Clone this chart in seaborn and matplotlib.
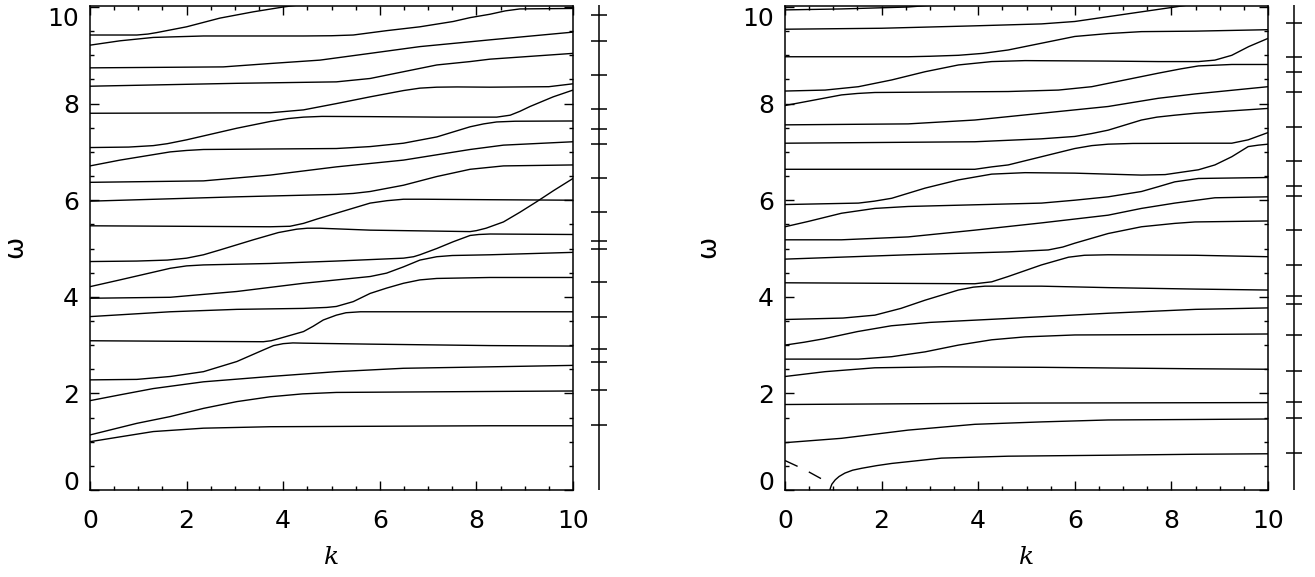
import numpy as np
import pandas as pd
import matplotlib
matplotlib.use("Agg")
import matplotlib.pyplot as plt
import seaborn as sns
from matplotlib.ticker import MultipleLocator

sns.set_style("ticks")
plt.rcParams["font.family"] = ["DejaVu Sans"]
for key in ["text.color", "axes.labelcolor", "xtick.color", "ytick.color", "axes.edgecolor"]:
    plt.rcParams[key] = "black"

# ---------------- left panel curves: (k, omega) ----------------
L01 = [(0, 9.42), (0.97, 9.42), (1.2, 9.44), (1.38, 9.47), (2.0, 9.59), (2.69, 9.77), (3.38, 9.90),
       (4.0, 10.0), (4.6, 10.08)]
L02 = [(0, 9.21), (0.62, 9.30), (1.31, 9.37), (2.35, 9.40), (4.42, 9.40), (5.0, 9.405), (5.45, 9.42),
       (6.14, 9.51), (6.83, 9.59), (7.52, 9.70), (7.87, 9.78), (8.28, 9.85), (8.6, 9.92), (8.9, 9.96), (10, 9.97)]
L03 = [(0, 8.74), (2.76, 8.76), (3.73, 8.83), (4.76, 8.90), (5.8, 9.04), (6.83, 9.18), (7.87, 9.28),
       (8.28, 9.32), (10, 9.48)]
L04 = [(0, 8.36), (3.04, 8.42), (5.1, 8.45), (5.8, 8.52), (6.49, 8.66), (7.18, 8.80), (7.87, 8.87),
       (8.28, 8.92), (10, 9.04)]
L05 = [(0, 7.80), (3.73, 7.81), (4.42, 7.87), (5.1, 8.0), (5.8, 8.14), (6.49, 8.27), (6.83, 8.32),
       (7.18, 8.34), (7.6, 8.345), (8.28, 8.34), (9.5, 8.35), (10, 8.41)]
L06 = [(0, 7.09), (0.8, 7.10), (1.31, 7.13), (1.6, 7.17), (2.0, 7.25), (3.04, 7.49), (3.73, 7.63),
       (4.1, 7.69), (4.42, 7.72), (4.8, 7.735), (5.8, 7.73), (7.18, 7.72), (8.42, 7.72), (8.7, 7.76),
       (8.9, 7.84), (9.11, 7.94), (9.59, 8.14), (10, 8.28)]
L07 = [(0, 6.71), (0.62, 6.83), (1.66, 7.0), (2.0, 7.03), (2.35, 7.05), (5.1, 7.07), (5.8, 7.11),
       (6.49, 7.18), (7.18, 7.31), (7.87, 7.52), (8.15, 7.58), (8.42, 7.62), (8.8, 7.635), (10, 7.64)]
L08 = [(0, 6.37), (2.35, 6.40), (3.73, 6.52), (5.1, 6.69), (6.49, 6.83), (7.87, 7.05), (8.56, 7.14), (10, 7.21)]
L09 = [(0, 5.98), (3.04, 6.07), (5.1, 6.12), (5.45, 6.14), (5.8, 6.18), (6.49, 6.31), (7.18, 6.49),
       (7.87, 6.64), (8.56, 6.71), (10, 6.73)]
L10 = [(0, 5.47), (3.73, 5.45), (4.14, 5.46), (4.42, 5.52), (4.7, 5.61), (5.1, 5.73), (5.8, 5.94),
       (6.15, 5.99), (6.49, 6.02), (6.9, 6.02), (8.28, 6.01), (10, 6.0)]
L11 = [(0, 4.73), (0.97, 4.74), (1.6, 4.76), (2.0, 4.80), (2.35, 4.87), (2.69, 4.97), (3.38, 5.18),
       (3.9, 5.33), (4.28, 5.40), (4.5, 5.42), (4.76, 5.42), (5.8, 5.38), (7.87, 5.35), (8.0, 5.37),
       (8.2, 5.42), (8.56, 5.55), (8.9, 5.75), (9.25, 5.97), (9.6, 6.2), (10, 6.45)]
L12 = [(0, 4.21), (0.62, 4.35), (1.66, 4.59), (2.0, 4.64), (2.35, 4.66), (3.73, 4.69), (5.1, 4.74),
       (6.49, 4.80), (6.7, 4.83), (6.83, 4.87), (7.18, 5.0), (7.52, 5.14), (7.87, 5.27), (8.05, 5.29),
       (8.28, 5.30), (10, 5.29)]
L13 = [(0, 3.97), (1.66, 3.99), (3.04, 4.11), (4.42, 4.28), (5.8, 4.42), (6.14, 4.49), (6.49, 4.62),
       (6.83, 4.76), (7.18, 4.83), (7.5, 4.855), (8.28, 4.87), (10, 4.92)]
L14 = [(0, 3.59), (1.66, 3.69), (3.04, 3.74), (4.42, 3.76), (4.9, 3.78), (5.1, 3.80), (5.45, 3.90),
       (5.8, 4.07), (6.14, 4.18), (6.49, 4.28), (6.83, 4.35), (7.18, 4.38), (8.28, 4.40), (10, 4.40)]
L15 = [(0, 3.09), (1.66, 3.08), (3.59, 3.07), (3.75, 3.09), (3.93, 3.14), (4.42, 3.28), (4.62, 3.39),
       (4.83, 3.52), (5.1, 3.62), (5.3, 3.67), (5.6, 3.69), (8.28, 3.69), (10, 3.69)]
L16 = [(0, 2.28), (0.97, 2.29), (1.66, 2.35), (2.35, 2.45), (3.04, 2.66), (3.59, 2.90), (3.8, 2.99),
       (4.0, 3.03), (4.2, 3.045), (4.42, 3.04), (5.8, 3.02), (8.28, 2.99), (10, 2.98)]
L17 = [(0, 1.85), (0.62, 1.97), (1.31, 2.10), (2.35, 2.24), (3.73, 2.35), (5.1, 2.45), (6.49, 2.52),
       (8.28, 2.55), (10, 2.58)]
L18 = [(0, 1.14), (0.97, 1.38), (1.66, 1.52), (2.35, 1.69), (3.04, 1.83), (3.73, 1.93), (4.4, 1.99),
       (5.1, 2.02), (8.28, 2.04), (10, 2.05)]
L19 = [(0, 1.0), (0.62, 1.10), (1.31, 1.21), (2.35, 1.28), (3.73, 1.31), (8.28, 1.33), (10, 1.33)]

# ---------------- right panel curves ----------------
R01 = [(0, 9.94), (1.17, 9.96), (2.55, 10.0), (3.6, 10.08)]
R02 = [(0, 9.54), (2.0, 9.56), (3.93, 9.61), (5.31, 9.65), (6.0, 9.70), (6.69, 9.80), (7.38, 9.90),
       (8.07, 10.0), (8.6, 10.08)]
R03 = [(0, 8.97), (2.55, 8.97), (3.0, 8.98), (3.59, 9.0), (4.1, 9.04), (4.62, 9.11), (5.31, 9.25),
       (6.0, 9.39), (6.69, 9.45), (7.38, 9.49), (8.49, 9.50), (10, 9.53)]
R04 = [(0, 8.26), (0.83, 8.28), (1.52, 8.35), (2.21, 8.49), (2.9, 8.66), (3.59, 8.80), (4.28, 8.87),
       (4.97, 8.89), (6.69, 8.88), (7.73, 8.87), (8.56, 8.87), (8.9, 8.90), (9.25, 9.0), (9.6, 9.18), (10, 9.35)]
R05 = [(0, 7.96), (0.48, 8.05), (1.17, 8.18), (1.5, 8.21), (1.86, 8.23), (4.62, 8.25), (5.66, 8.28),
       (6.35, 8.35), (7.04, 8.49), (7.73, 8.63), (8.2, 8.72), (8.56, 8.78), (9.25, 8.81), (10, 8.81)]
R06 = [(0, 7.56), (2.55, 7.58), (3.93, 7.66), (5.31, 7.80), (6.69, 7.94), (7.73, 8.11), (8.49, 8.20), (10, 8.35)]
R07 = [(0, 7.18), (3.93, 7.21), (5.3, 7.27), (6.0, 7.32), (6.35, 7.38), (6.69, 7.45), (7.38, 7.66),
       (7.7, 7.72), (8.07, 7.76), (8.49, 7.80), (10, 7.90)]
R08 = [(0, 6.64), (3.93, 6.64), (4.28, 6.69), (4.62, 6.73), (5.31, 6.90), (6.0, 7.07), (6.35, 7.13),
       (6.69, 7.16), (7.2, 7.175), (8.49, 7.18), (9.25, 7.18), (9.59, 7.25), (10, 7.40)]
R09 = [(0, 5.91), (1.52, 5.94), (1.85, 5.98), (2.21, 6.04), (2.9, 6.25), (3.59, 6.42), (4.28, 6.54),
       (4.97, 6.57), (6.0, 6.56), (7.38, 6.52), (7.87, 6.53), (8.56, 6.63), (8.9, 6.73), (9.25, 6.90),
       (9.59, 7.11), (9.8, 7.14), (10, 7.16)]
R10 = [(0, 5.45), (0.48, 5.56), (1.17, 5.73), (1.86, 5.83), (2.55, 5.87), (5.31, 5.94), (6.0, 6.0),
       (6.69, 6.07), (7.38, 6.18), (7.73, 6.28), (8.07, 6.38), (8.56, 6.45), (10, 6.47)]
R11 = [(0, 5.18), (1.17, 5.18), (2.55, 5.24), (3.93, 5.38), (5.31, 5.53), (6.69, 5.69), (7.38, 5.83),
       (8.07, 5.94), (8.9, 6.05), (10, 6.07)]
R12 = [(0, 4.78), (2.55, 4.87), (4.62, 4.93), (5.45, 4.97), (5.75, 5.03), (6.0, 5.11), (6.69, 5.31),
       (7.38, 5.45), (8.07, 5.52), (8.49, 5.55), (10, 5.57)]
R13 = [(0, 4.29), (3.93, 4.27), (4.28, 4.31), (4.62, 4.42), (5.31, 4.66), (5.87, 4.82), (6.2, 4.86),
       (6.69, 4.87), (8.49, 4.86), (10, 4.83)]
R14 = [(0, 3.53), (1.2, 3.56), (1.86, 3.62), (2.4, 3.76), (2.9, 3.93), (3.59, 4.14), (3.9, 4.20),
       (4.14, 4.22), (5.31, 4.22), (6.69, 4.19), (8.49, 4.16), (10, 4.14)]
R15 = [(0, 3.0), (0.4, 3.06), (0.8, 3.13), (1.5, 3.28), (2.2, 3.40), (3.0, 3.47), (4.6, 3.55), (6.7, 3.66),
       (8.5, 3.74), (10, 3.77)]
R16 = [(0, 2.71), (1.52, 2.71), (2.21, 2.76), (2.9, 2.86), (3.59, 3.0), (4.28, 3.11), (4.97, 3.17),
       (6.0, 3.21), (8.49, 3.22), (10, 3.23)]
R17 = [(0, 2.35), (0.83, 2.45), (1.86, 2.53), (3.24, 2.55), (5.31, 2.54), (8.49, 2.51), (10, 2.50)]
R18 = [(0, 1.77), (5.0, 1.80), (10, 1.81)]
R19 = [(0, 0.98), (1.17, 1.07), (2.55, 1.24), (3.93, 1.36), (5.31, 1.41), (6.69, 1.45), (8.49, 1.46), (10, 1.47)]
R20 = [(0.93, 0.0), (0.94, 0.04), (0.97, 0.12), (1.04, 0.21), (1.12, 0.28), (1.24, 0.35), (1.4, 0.41),
       (1.59, 0.45), (1.9, 0.505), (2.21, 0.55), (3.24, 0.66), (4.62, 0.70), (6.69, 0.72), (8.49, 0.74), (10, 0.75)]
R_dashed = [(0, 0.61), (0.41, 0.42), (0.83, 0.19)]

# asymptotic levels marked on the narrow side scales
left_levels = [9.83, 9.30, 8.59, 7.89, 7.47, 7.16, 6.45, 5.75, 5.16, 4.98, 4.30, 3.59, 2.92, 2.66, 2.07, 1.35]
right_levels = [9.66, 8.96, 8.66, 8.23, 7.52, 6.81, 6.30, 6.09, 5.38, 4.66, 4.02, 3.85, 3.20, 2.47,
                1.82, 1.50, 0.76]

k_ticks = [0, 2, 4, 6, 8, 10]
w_ticks = [0, 2, 4, 6, 8, 10]
tick_labels = ["0", "2", "4", "6", "8", "10"]

left_curves = [L01, L02, L03, L04, L05, L06, L07, L08, L09, L10, L11, L12, L13, L14, L15, L16, L17, L18, L19]
right_curves = [R01, R02, R03, R04, R05, R06, R07, R08, R09, R10, R11, R12, R13, R14, R15, R16, R17, R18, R19, R20]


def to_frame(curves):
    rows = []
    for i, c in enumerate(curves):
        for kk, ww in c:
            rows.append({"k": kk, "omega": ww, "curve": i})
    return pd.DataFrame(rows)


W, H = 1315, 577
fig = plt.figure(figsize=(W / 100, H / 100), dpi=100)

Y_BOT, Y_TOP = 490.0, 5.5
YMAX = (Y_BOT - Y_TOP) / 48.3


def fx(px):
    return px / W


def fy(py):
    return 1 - py / H


def main_axes(x0, x1):
    return fig.add_axes([fx(x0), fy(Y_BOT), fx(x1) - fx(x0), fy(Y_TOP) - fy(Y_BOT)])


def style_main(ax):
    ax.set_xlim(0, 10)
    ax.set_ylim(0, YMAX)
    ax.set_xticks(k_ticks, tick_labels)
    ax.set_yticks(w_ticks, tick_labels)
    ax.xaxis.set_minor_locator(MultipleLocator(0.5))
    ax.yaxis.set_minor_locator(MultipleLocator(0.5))
    ax.tick_params(which="both", direction="in", top=True, right=True, color="black", width=1.0)
    ax.tick_params(which="major", length=6.5)
    ax.tick_params(which="minor", length=3.2)
    ax.tick_params(axis="x", labelsize=18, pad=14, labelcolor="black")
    ax.tick_params(axis="y", labelsize=18, pad=8, labelcolor="black")
    for s in ax.spines.values():
        s.set_visible(True)
        s.set_linewidth(1.1)
        s.set_color("black")
    ylabs = ax.get_yticklabels()
    ylabs[0].set_va("baseline")
    ylabs[-1].set_va("top")
    ax.set_xlabel("k", fontsize=18, fontstyle="italic", family="DejaVu Serif", color="black")
    ax.xaxis.set_label_coords(0.5, (Y_BOT - 558) / (Y_BOT - Y_TOP))
    ax.xaxis.label.set_va("center")
    ax.set_ylabel("")


def side_axes(x0, x1, levels):
    axs = fig.add_axes([fx(x0), fy(Y_BOT), fx(x1) - fx(x0), fy(Y_TOP - 0.5) - fy(Y_BOT)])
    axs.set_xlim(0, 1)
    axs.set_ylim(0, (Y_BOT - Y_TOP + 0.5) / 48.3)
    axs.axis("off")
    axs.axvline(0.5, color="black", lw=1.1)
    axs.hlines(levels, 0, 1, color="black", lw=1.1)
    return axs


axL = main_axes(90, 573)
sns.lineplot(data=to_frame(left_curves), x="k", y="omega", units="curve", estimator=None, sort=False,
             color="black", lw=1.0, legend=False, ax=axL)
style_main(axL)
side_axes(590.7, 607.3, left_levels)
fig.text(fx(15), fy(247), "ω", fontsize=19, rotation=90, ha="center", va="center", color="black")

axR = main_axes(785, 1268)
sns.lineplot(data=to_frame(right_curves), x="k", y="omega", units="curve", estimator=None, sort=False,
             color="black", lw=1.0, legend=False, ax=axR)
dash_df = pd.DataFrame({"k": [p[0] for p in R_dashed], "omega": [p[1] for p in R_dashed]})
sns.lineplot(data=dash_df, x="k", y="omega", estimator=None, sort=False, color="black", lw=1.0,
             linestyle=(0, (10, 9)), legend=False, ax=axR)
style_main(axR)
side_axes(1285.7, 1302.3, right_levels)
fig.text(fx(708), fy(247), "ω", fontsize=19, rotation=90, ha="center", va="center", color="black")

fig.savefig("out.png", dpi=100)
